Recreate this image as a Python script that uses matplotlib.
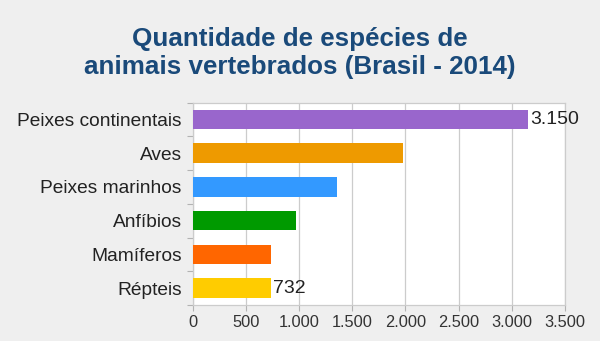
import matplotlib
matplotlib.use("Agg")
import matplotlib.pyplot as plt
from matplotlib.ticker import FixedLocator, FuncFormatter

categories = ["Peixes continentais", "Aves", "Peixes marinhos", "Anfíbios", "Mamíferos", "Répteis"]
values = [3150, 1980, 1358, 973, 732, 732]
colors = ["#9966cc", "#ee9a00", "#3399ff", "#009a00", "#ff6600", "#ffcc00"]
labeled = {"Peixes continentais", "Répteis"}
title = "Quantidade de espécies de\nanimais vertebrados (Brasil - 2014)"

plt.rcParams["font.family"] = ["Liberation Sans", "DejaVu Sans"]

fig = plt.figure(figsize=(6.0, 3.41), dpi=100)
fig.patch.set_facecolor("#efefef")
ax = fig.add_axes([0.3212, 0.1055, 0.6205, 0.5935])
ax.set_facecolor("white")

n = len(categories)
ypos = list(range(n))
ax.barh(ypos, values, height=0.58, color=colors, zorder=3)
ax.set_ylim(n - 0.5, -0.5)
ax.set_xlim(0, 3500)

ax.set_yticks(ypos)
ax.set_yticklabels(categories, fontsize=13.8, color="#222222")
ax.yaxis.set_minor_locator(FixedLocator([i - 0.5 for i in range(n + 1)]))
ax.tick_params(axis="y", which="major", length=0, pad=8)
ax.tick_params(axis="y", which="minor", length=4, color="#b3b3b3", width=0.8)

ax.set_xticks(range(0, 3501, 500))
ax.xaxis.set_major_formatter(FuncFormatter(lambda v, p: f"{int(v):,}".replace(",", ".")))
ax.tick_params(axis="x", length=4, color="#b3b3b3", width=0.8, labelsize=11.8,
               labelcolor="#333333", pad=3)

ax.grid(axis="x", color="#cccccc", linewidth=0.9, zorder=0)
for s in ax.spines.values():
    s.set_color("#cccccc")
    s.set_linewidth(0.9)

for y, v, c in zip(ypos, values, categories):
    if c in labeled:
        ax.text(v + 25, y, f"{v:,}".replace(",", "."), va="center", ha="left",
                fontsize=14, color="#222222", zorder=4)

fig.text(0.5, 0.845, title, ha="center", va="center", fontsize=18.7,
         fontweight="bold", color="#1a4a7a", linespacing=1.2)

fig.savefig("out.png", dpi=100, facecolor=fig.get_facecolor())
